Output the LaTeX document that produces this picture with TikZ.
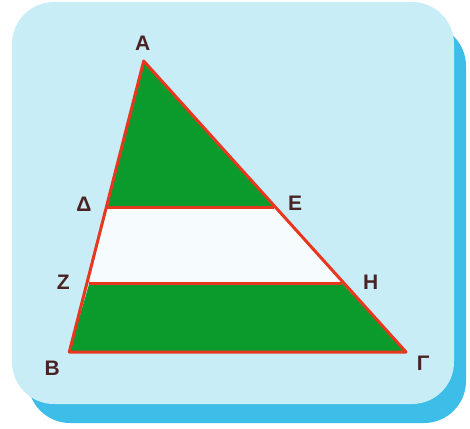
\documentclass[tikz,border=0pt]{standalone}
\usepackage{fontspec}
\setmainfont{Liberation Sans}
\definecolor{bgblue}{HTML}{C9EDF6}
\definecolor{shblue}{HTML}{3CBEE9}
\definecolor{tgreen}{HTML}{0B9A2C}
\definecolor{tred}{HTML}{E8371F}
\definecolor{lblcol}{HTML}{4A2222}
\definecolor{bandwhite}{HTML}{F6FCFE}
\begin{document}
\begin{tikzpicture}[x=1pt,y=-1pt,
  lbl/.style={text=lblcol,font=\fontsize{21}{21}\selectfont\bfseries,inner sep=0pt},
  edge/.style={draw=tred,line width=3pt,line join=round}]
\useasboundingbox (0,0) rectangle (470,428);
\fill[shblue,rounded corners=42pt] (28,24) rectangle (466,423);
\fill[bgblue,rounded corners=42pt] (12,2) rectangle (454,404);
\coordinate (A) at (143.7,61);
\coordinate (D) at (106.7,207);
\coordinate (E) at (274,207);
\coordinate (Z) at (89.3,283.5);
\coordinate (H) at (342,283.5);
\coordinate (B) at (69.3,352);
\coordinate (G) at (406,352);
\fill[tgreen] (A) -- (D) -- (E) -- cycle;
\fill[bandwhite] (D) -- (E) -- (H) -- (Z) -- cycle;
\fill[tgreen] (Z) -- (H) -- (G) -- (B) -- cycle;
\draw[edge] (A) -- (B) -- (G) -- cycle;
\draw[edge] (D) -- (E);
\draw[edge] (Z) -- (H);
\node[lbl] (lA) at (142.7,43) {Α};
\node[lbl] (lD) at (84,204) {Δ};
\node[lbl] (lE) at (295,203) {Ε};
\node[lbl] (lZ) at (63.3,282) {Ζ};
\node[lbl] (lH) at (370.7,282) {Η};
\node[lbl] (lB) at (52.3,368.3) {Β};
\node[lbl] (lG) at (423.3,363.5) {Γ};
\end{tikzpicture}
\end{document}
